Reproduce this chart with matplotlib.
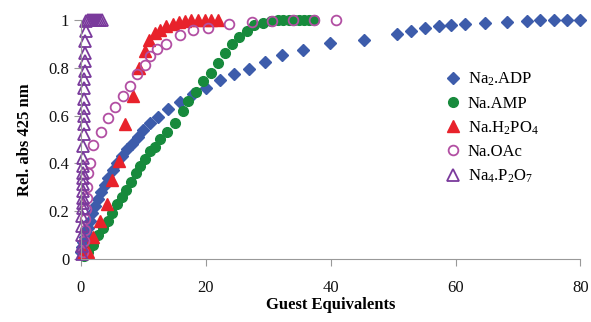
import numpy as np
import matplotlib
matplotlib.use('Agg')
import matplotlib.pyplot as plt

plt.rcParams.update({
    'font.family': 'Liberation Serif',
    'mathtext.fontset': 'custom',
    'mathtext.rm': 'Liberation Serif',
    'mathtext.it': 'Liberation Serif',
    'font.size': 12,
})

# Na2.ADP
adp_x = [0.0, 0.2, 0.4, 0.6, 0.8, 1.1, 1.4, 1.8, 2.2, 2.7, 3.2, 3.8, 4.4, 5.1, 5.8,
         6.6, 7.4, 8.2, 9.1, 10.0, 11.1, 12.4, 14.0, 15.8, 17.9, 20.1, 22.2, 24.5,
         26.9, 29.5, 32.2, 35.6, 39.9, 45.4, 50.7, 52.8, 55.1, 57.3, 59.3, 61.5,
         64.7, 68.3, 71.5, 73.6, 75.8, 77.9, 80.0]
adp_y = [0.03, 0.05, 0.07, 0.09, 0.11, 0.13, 0.16, 0.19, 0.22, 0.25, 0.28, 0.31, 0.34,
         0.37, 0.40, 0.43, 0.46, 0.48, 0.51, 0.54, 0.57, 0.594, 0.628, 0.657, 0.69,
         0.715, 0.749, 0.774, 0.795, 0.824, 0.854, 0.874, 0.904, 0.916, 0.941, 0.954,
         0.967, 0.975, 0.979, 0.985, 0.987, 0.99, 0.995, 1.0, 1.0, 1.0, 1.0]

# Na.AMP
amp_x = [0.5, 1.1, 1.9, 2.7, 3.5, 4.3, 5.0, 5.8, 6.5, 7.2, 8.0, 8.8, 9.5, 10.2, 11.0,
         11.8, 12.6, 13.8, 15.1, 16.3, 17.2, 18.4, 19.6, 20.8, 21.9, 23.0, 24.2, 25.3,
         26.6, 27.7, 29.1, 30.4, 31.5, 32.4, 33.4, 34.2, 35.0, 35.7, 36.5, 37.4]
amp_y = [0.01, 0.03, 0.06, 0.10, 0.13, 0.16, 0.19, 0.23, 0.26, 0.29, 0.32, 0.36, 0.39,
         0.42, 0.45, 0.47, 0.50, 0.53, 0.57, 0.62, 0.66, 0.70, 0.745, 0.78, 0.82, 0.86,
         0.90, 0.93, 0.955, 0.98, 0.987, 0.995, 0.998, 1.0, 1.0, 1.0, 1.0, 1.0, 1.0, 1.0]

# Na.H2PO4
h2po4_x = [0.3, 1.1, 1.9, 3.1, 4.2, 5.0, 6.1, 7.1, 8.4, 9.3, 10.3, 10.9, 11.9, 12.7,
           13.7, 14.7, 15.7, 16.7, 17.7, 18.7, 19.8, 20.8, 21.9]
h2po4_y = [0.03, 0.03, 0.09, 0.16, 0.23, 0.33, 0.41, 0.565, 0.68, 0.80, 0.87, 0.915,
           0.945, 0.96, 0.975, 0.985, 0.99, 0.995, 1.0, 1.0, 1.0, 1.0, 1.0]

# Na.OAc
oac_x = [0.3, 0.5, 0.6, 0.7, 0.8, 0.9, 1.0, 1.1, 1.4, 1.9, 3.2, 4.4, 5.5, 6.7, 7.8,
         9.0, 10.3, 11.1, 12.2, 13.7, 15.8, 18.0, 20.3, 23.7, 27.4, 30.6, 34.0, 37.4, 40.9]
oac_y = [0.03, 0.075, 0.12, 0.165, 0.21, 0.255, 0.30, 0.36, 0.40, 0.475, 0.53, 0.59,
         0.635, 0.68, 0.725, 0.775, 0.81, 0.85, 0.88, 0.90, 0.937, 0.958, 0.967, 0.983,
         0.99, 0.995, 1.0, 1.0, 1.0]

# Na4.P2O7
p2o7_x = [0.1, 0.1, 0.15, 0.2, 0.2, 0.25, 0.25, 0.3, 0.3, 0.3, 0.35, 0.35, 0.4, 0.4,
          0.4, 0.45, 0.45, 0.5, 0.5, 0.5, 0.55, 0.55, 0.6, 0.6, 0.65, 0.7, 0.75, 0.85,
          1.2, 1.5, 1.8, 2.1, 2.4, 2.7, 3.0, 3.4]
p2o7_y = [0.02, 0.054, 0.10, 0.138, 0.18, 0.213, 0.234, 0.255, 0.285, 0.314, 0.339,
          0.36, 0.389, 0.423, 0.473, 0.523, 0.565, 0.598, 0.632, 0.669, 0.715, 0.753,
          0.787, 0.828, 0.862, 0.912, 0.954, 0.996, 1.0, 1.0, 1.0, 1.0, 1.0, 1.0, 1.0, 1.0]

fig = plt.figure(figsize=(5.91, 3.22), dpi=100)
ax = fig.add_axes([0.137, 0.196, 0.845, 0.742])

kw = dict(linestyle='none', clip_on=False)
ax.plot(adp_x, adp_y, marker='D', ms=6, color='#3D5CAB', mec='#3D5CAB', label='Na$_2$.ADP', **kw)
ax.plot(amp_x, amp_y, marker='o', ms=7, color='#178A3C', mec='#178A3C', label='Na.AMP', **kw)
ax.plot(h2po4_x, h2po4_y, marker='^', ms=8, color='#E8222B', mec='#E8222B',
        label='Na.H$_2$PO$_4$', **kw)
ax.plot(oac_x, oac_y, marker='o', ms=7, mfc='none', mec='#B24FA3', mew=1.3,
        label='Na.OAc', **kw)
ax.plot(p2o7_x, p2o7_y, marker='^', ms=8, mfc='none', mec='#7A3A9C', mew=1.3,
        label='Na$_4$.P$_2$O$_7$', **kw)

ax.set_xlim(0, 80)
ax.set_ylim(0, 1)
ax.set_xticks([0, 20, 40, 60, 80])
ax.set_yticks([0, 0.2, 0.4, 0.6, 0.8, 1])
ax.set_yticklabels(['0', '0.2', '0.4', '0.6', '0.8', '1'])

for s in ['top', 'right']:
    ax.spines[s].set_visible(False)
for s in ['left', 'bottom']:
    ax.spines[s].set_color('#999999')
ax.tick_params(axis='both', colors='#999999', labelcolor='#111111', length=5, labelsize=12)
ax.tick_params(axis='x', pad=10)

ax.set_xlabel('Guest Equivalents', fontweight='bold', fontsize=12, labelpad=1)
ax.set_ylabel('Rel. abs 425 nm', fontweight='bold', fontsize=12, labelpad=11)

ax.legend(loc='upper left', bbox_to_anchor=(0.694, 0.85), frameon=False, fontsize=12,
          handletextpad=0.3, labelspacing=0.45, handlelength=1.2)

fig.savefig('out.png', dpi=100)
